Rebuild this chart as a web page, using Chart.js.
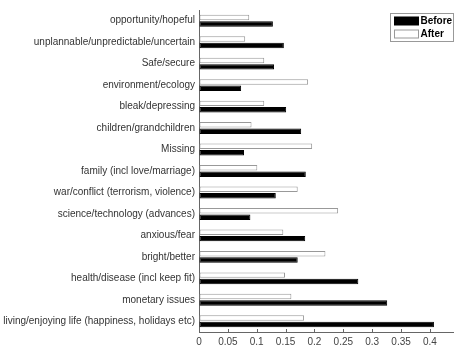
<!DOCTYPE html>
<html>
<head>
<meta charset="utf-8">
<script src="https://cdn.jsdelivr.net/npm/chart.js@4.4.1/dist/chart.umd.min.js"></script>
<style>
  html, body { margin: 0; padding: 0; background: #fff; }
  #wrap { width: 456px; height: 345px; }
</style>
</head>
<body>
<div id="wrap"><canvas id="chart" width="456" height="345"></canvas></div>
<script>
// categories, top to bottom
const categories = [
  'opportunity/hopeful',
  'unplannable/unpredictable/uncertain',
  'Safe/secure',
  'environment/ecology',
  'bleak/depressing',
  'children/grandchildren',
  'Missing',
  'family (incl love/marriage)',
  'war/conflict (terrorism, violence)',
  'science/technology (advances)',
  'anxious/fear',
  'bright/better',
  'health/disease (incl keep fit)',
  'monetary issues',
  'living/enjoying life (happiness, holidays etc)'
];
const afterValues  = [0.087, 0.080, 0.113, 0.189, 0.113, 0.091, 0.196, 0.101, 0.171, 0.241, 0.146, 0.219, 0.149, 0.160, 0.182];
const beforeValues = [0.128, 0.147, 0.130, 0.073, 0.151, 0.177, 0.078, 0.185, 0.133, 0.089, 0.184, 0.171, 0.276, 0.326, 0.407];
const xTicks = [0, 0.05, 0.1, 0.15, 0.2, 0.25, 0.3, 0.35, 0.4];

const FONT = 'Liberation Sans, Arial, Helvetica, sans-serif';

// inward tick marks, matlab style
const innerTicks = {
  id: 'innerTicks',
  afterDraw(chart) {
    const ctx = chart.ctx, x = chart.scales.x, area = chart.chartArea;
    ctx.save();
    ctx.strokeStyle = '#666';
    ctx.lineWidth = 1;
    xTicks.forEach(v => {
      const px = Math.round(x.getPixelForValue(v)) + 0.5;
      ctx.beginPath();
      ctx.moveTo(px, area.bottom);
      ctx.lineTo(px, area.bottom - 3);
      ctx.stroke();
    });
    ctx.restore();
  }
};

// boxed legend in the top right corner
const boxLegend = {
  id: 'boxLegend',
  afterDraw(chart) {
    const ctx = chart.ctx;
    const sets = chart.data.datasets.slice().reverse(); // Before first
    const bx = 390.5, by = 13.5, bw = 63, bh = 28;
    ctx.save();
    ctx.fillStyle = '#fff';
    ctx.fillRect(bx, by, bw, bh);
    ctx.strokeStyle = '#999';
    ctx.lineWidth = 1;
    ctx.strokeRect(bx, by, bw, bh);
    ctx.font = 'bold 10px ' + FONT;
    ctx.textBaseline = 'middle';
    sets.forEach((ds, i) => {
      const y = by + 3.5 + i * 13;
      ctx.fillStyle = ds.backgroundColor;
      ctx.fillRect(bx + 4, y, 24, 8);
      ctx.strokeStyle = ds.borderColor;
      ctx.strokeRect(bx + 4, y, 24, 8);
      ctx.fillStyle = '#000';
      ctx.fillText(ds.label, bx + 30, y + 4.5);
    });
    ctx.restore();
  }
};

new Chart(document.getElementById('chart'), {
  type: 'bar',
  data: {
    labels: categories,
    datasets: [
      {
        label: 'After',
        data: afterValues,
        backgroundColor: '#ffffff',
        borderColor: '#999999',
        borderWidth: 1,
        borderSkipped: false,
        categoryPercentage: 0.6,
        barPercentage: 0.85
      },
      {
        label: 'Before',
        data: beforeValues,
        backgroundColor: '#000000',
        borderColor: '#000000',
        borderWidth: 1,
        borderSkipped: false,
        categoryPercentage: 0.6,
        barPercentage: 0.85
      }
    ]
  },
  options: {
    indexAxis: 'y',
    responsive: false,
    animation: false,
    layout: { padding: { top: 9, right: 3, left: 0, bottom: 0 } },
    plugins: {
      legend: { display: false },
      tooltip: { enabled: false }
    },
    scales: {
      x: {
        min: 0,
        max: 0.44,
        afterBuildTicks: s => { s.ticks = xTicks.map(v => ({ value: v })); },
        afterFit: s => { s.height = 13; },
        grid: { display: true, drawOnChartArea: false, drawTicks: false },
        border: { display: true, color: '#666' },
        ticks: {
          color: '#444',
          font: { family: FONT, size: 10 },
          padding: 4,
          maxRotation: 0,
          callback: v => String(+v.toFixed(2))
        }
      },
      y: {
        afterFit: s => { s.width = 199; },
        grid: { display: false, drawTicks: false },
        border: { display: true, color: '#666' },
        ticks: {
          color: '#333',
          font: { family: FONT, size: 10 },
          padding: 4,
          autoSkip: false
        }
      }
    }
  },
  plugins: [innerTicks, boxLegend]
});
</script>
</body>
</html>
